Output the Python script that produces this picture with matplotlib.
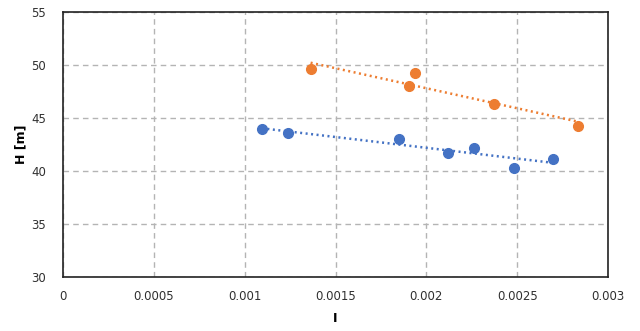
import numpy as np
import matplotlib.pyplot as plt

# Measured points: hydraulic gradient I vs head H
blueI = [0.001095, 0.001239, 0.001850, 0.002120, 0.002262, 0.002483, 0.002697]
blueH = [43.97, 43.59, 43.00, 41.70, 42.17, 40.28, 41.13]
orangeI = [0.001363, 0.001905, 0.001939, 0.002372, 0.002837]
orangeH = [49.6, 48.0, 49.25, 46.35, 44.27]

xTicks = [0, 0.0005, 0.001, 0.0015, 0.002, 0.0025, 0.003]
xTickLabels = ["0", "0.0005", "0.001", "0.0015", "0.002", "0.0025", "0.003"]
yTicks = [30, 35, 40, 45, 50, 55]

blueColor = "#4472C4"
orangeColor = "#ED7D31"

fig = plt.figure(figsize=(6.4, 3.31), dpi=100)
ax = fig.add_axes([63 / 640, 1 - 277 / 331, 545 / 640, 265 / 331])


# Linear trend line over the data range
def _trend(x, y, color):
    k, b = np.polyfit(x, y, 1)
    xs = np.array([min(x), max(x)])
    ax.plot(xs, k * xs + b, color=color, linewidth=1.8,
            linestyle=(0, (0.8, 1.4)), zorder=2)


_trend(blueI, blueH, blueColor)
_trend(orangeI, orangeH, orangeColor)
ax.plot(blueI, blueH, "o", color=blueColor, markersize=7, zorder=3)
ax.plot(orangeI, orangeH, "o", color=orangeColor, markersize=7, zorder=3)

ax.set_xlim(0, 0.003)
ax.set_ylim(30, 55)
ax.set_xticks(xTicks)
ax.set_xticklabels(xTickLabels)
ax.set_yticks(yTicks)
ax.tick_params(length=0, labelsize=8.5, colors="#303030", pad=9)
ax.tick_params(axis="y", pad=12)
ax.grid(True, color="#B4B4B4", linestyle=(0, (4, 3)), linewidth=1)
ax.set_axisbelow(True)
for s in ax.spines.values():
    s.set_color("#222222")
    s.set_linewidth(1.2)

ax.set_xlabel("I", fontsize=9, fontweight="bold", labelpad=7)
ax.set_ylabel("H [m]", fontsize=9, fontweight="bold", labelpad=3)

fig.savefig("out.png", dpi=100)
